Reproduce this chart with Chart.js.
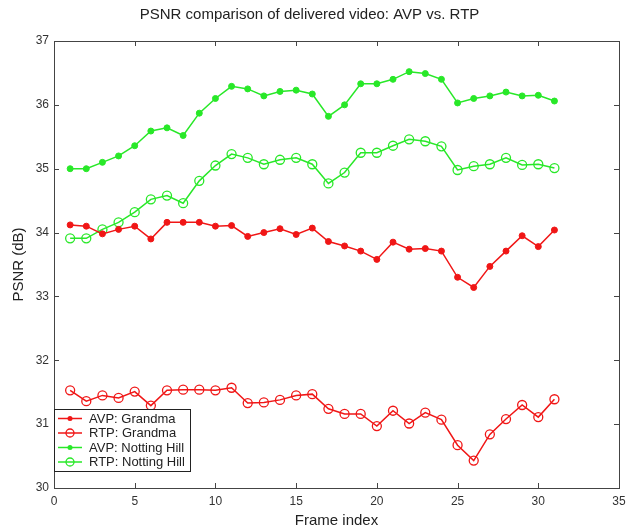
<!DOCTYPE html>
<html>
<head>
<meta charset="utf-8">
<script src="https://cdn.jsdelivr.net/npm/chart.js@4"></script>
<style>
html,body{margin:0;padding:0;background:#fff;}
#wrap{width:628px;height:530px;position:relative;}
</style>
</head>
<body>
<div id="wrap"><canvas id="c" width="628" height="530"></canvas></div>
<script>
const frames = [1,2,3,4,5,6,7,8,9,10,11,12,13,14,15,16,17,18,19,20,21,22,23,24,25,26,27,28,29,30,31];
const avpGrandma = [34.12,34.10,33.98,34.05,34.10,33.90,34.16,34.16,34.16,34.10,34.11,33.94,34.00,34.06,33.97,34.07,33.86,33.79,33.71,33.58,33.85,33.74,33.75,33.71,33.30,33.14,33.47,33.71,33.95,33.78,34.04];
const rtpGrandma = [31.53,31.36,31.45,31.41,31.51,31.29,31.53,31.54,31.54,31.53,31.57,31.33,31.34,31.38,31.45,31.47,31.24,31.16,31.16,30.97,31.21,31.01,31.18,31.07,30.67,30.43,30.84,31.08,31.30,31.11,31.39];
const avpNotting = [35.00,35.00,35.10,35.20,35.36,35.59,35.64,35.52,35.87,36.10,36.29,36.25,36.14,36.21,36.23,36.17,35.82,36.00,36.33,36.33,36.40,36.52,36.49,36.40,36.03,36.10,36.14,36.20,36.14,36.15,36.06];
const rtpNotting = [33.91,33.91,34.05,34.16,34.32,34.52,34.58,34.46,34.81,35.05,35.23,35.17,35.07,35.14,35.17,35.07,34.77,34.94,35.25,35.25,35.36,35.46,35.43,35.35,34.98,35.04,35.07,35.17,35.06,35.07,35.01];
const seriesNames = ['AVP: Grandma','RTP: Grandma','AVP: Notting Hill','RTP: Notting Hill'];
const xTicks = [0,5,10,15,20,25,30,35];
const yTicks = [30,31,32,33,34,35,36,37];

const RED = 'rgb(240,22,22)';
const GREEN = 'rgb(40,232,40)';
const FONT = '"Liberation Sans", Arial, sans-serif';

function pts(vals){ return frames.map((f,i)=>({x:f,y:vals[i]})); }

const styles = [
  {color:RED, filled:true},
  {color:RED, filled:false},
  {color:GREEN, filled:true},
  {color:GREEN, filled:false}
];
const seriesVals = [avpGrandma, rtpGrandma, avpNotting, rtpNotting];

const datasets = seriesVals.map((v,i)=>({
  label: seriesNames[i],
  data: pts(v),
  borderColor: styles[i].color,
  backgroundColor: styles[i].filled ? styles[i].color : 'rgba(0,0,0,0)',
  pointBackgroundColor: styles[i].filled ? styles[i].color : 'rgba(0,0,0,0)',
  pointBorderColor: styles[i].color,
  pointRadius: styles[i].filled ? 3 : 4.5,
  pointBorderWidth: styles[i].filled ? 1 : 1.3,
  borderWidth: 1.5,
  tension: 0,
  fill: false
}));

const boxPlugin = {
  id:'boxPlugin',
  afterDraw(chart){
    const {ctx, chartArea:a, scales} = chart;
    ctx.save();
    ctx.strokeStyle = '#444';
    ctx.lineWidth = 1;
    ctx.strokeRect(a.left+0.5, a.top+0.5, a.right-a.left, a.bottom-a.top);
    const tl = 5;
    ctx.beginPath();
    xTicks.forEach(t=>{
      const x = Math.round(scales.x.getPixelForValue(t))+0.5;
      ctx.moveTo(x,a.bottom); ctx.lineTo(x,a.bottom-tl);
      ctx.moveTo(x,a.top); ctx.lineTo(x,a.top+tl);
    });
    yTicks.forEach(t=>{
      const y = Math.round(scales.y.getPixelForValue(t))+0.5;
      ctx.moveTo(a.left,y); ctx.lineTo(a.left+tl,y);
      ctx.moveTo(a.right,y); ctx.lineTo(a.right-tl,y);
    });
    ctx.stroke();

    // legend box
    const lx = a.left, ly = 409, lw = 136, lh = 62;
    ctx.fillStyle = '#fff';
    ctx.fillRect(lx, ly, lw, lh);
    ctx.strokeStyle = '#222';
    ctx.strokeRect(lx+0.5, ly+0.5, lw, lh);
    ctx.font = '13px ' + FONT;
    ctx.textBaseline = 'middle';
    const rows = [418.5, 433, 447.5, 462];
    seriesNames.forEach((n,i)=>{
      const y = rows[i];
      const st = styles[i];
      ctx.strokeStyle = st.color;
      ctx.lineWidth = 1.5;
      ctx.beginPath(); ctx.moveTo(lx+4,y); ctx.lineTo(lx+28,y); ctx.stroke();
      ctx.beginPath();
      if(st.filled){
        ctx.fillStyle = st.color;
        ctx.arc(lx+16,y,2.5,0,Math.PI*2); ctx.fill();
      } else {
        ctx.lineWidth = 1.3;
        ctx.arc(lx+16,y,4,0,Math.PI*2); ctx.stroke();
      }
      ctx.fillStyle = '#222';
      ctx.fillText(n, lx+35, y+0.5);
    });
    ctx.restore();
  }
};

new Chart(document.getElementById('c'), {
  type:'line',
  data:{datasets},
  options:{
    responsive:false,
    animation:false,
    devicePixelRatio:1,
    layout:{padding:{left:0,right:9,top:0,bottom:0}},
    plugins:{
      legend:{display:false},
      tooltip:{enabled:false},
      title:{display:true, text:'PSNR comparison of delivered video: AVP vs. RTP', color:'#222', font:{family:FONT, size:15, weight:'normal', lineHeight:1.2}, padding:{top:6,bottom:17}}
    },
    scales:{
      x:{type:'linear', min:0, max:35,
         afterBuildTicks(s){ s.ticks = xTicks.map(v=>({value:v})); },
         afterFit(s){ s.height = 42; s.paddingRight = 0; s.paddingLeft = 0; },
         ticks:{color:'#333', font:{family:FONT,size:12}, padding:6, maxRotation:0},
         grid:{display:false, drawTicks:false}, border:{display:false},
         title:{display:true, text:'Frame index', color:'#222', font:{family:FONT,size:15,lineHeight:1.2}, padding:{top:0,bottom:0}}},
      y:{type:'linear', min:30, max:37,
         afterBuildTicks(s){ s.ticks = yTicks.map(v=>({value:v})); },
         afterFit(s){ s.width = 54; s.paddingTop = 0; s.paddingBottom = 0; },
         ticks:{color:'#333', font:{family:FONT,size:12}, padding:5},
         grid:{display:false, drawTicks:false}, border:{display:false},
         title:{display:true, text:'PSNR (dB)', color:'#222', font:{family:FONT,size:15,lineHeight:1.2}, padding:{top:10,bottom:0}}}
    }
  },
  plugins:[boxPlugin]
});
</script>
</body>
</html>
